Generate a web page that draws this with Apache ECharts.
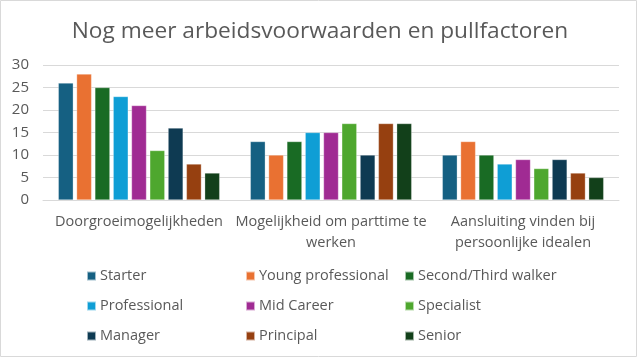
<!DOCTYPE html>
<html><head><meta charset="utf-8">
<script src="https://cdn.jsdelivr.net/npm/echarts@6/dist/echarts.min.js"></script>
<style>html,body{margin:0;padding:0;background:#fff}#c{width:640px;height:359px}</style>
</head><body><div id="c"></div>
<script>
const title = 'Nog meer arbeidsvoorwaarden en pullfactoren';
const categories = ['Doorgroeimogelijkheden', 'Mogelijkheid om parttime te\nwerken', 'Aansluiting vinden bij\npersoonlijke idealen'];
const seriesNames = ['Starter', 'Young professional', 'Second/Third walker', 'Professional', 'Mid Career', 'Specialist', 'Manager', 'Principal', 'Senior'];
const colors = ['#156082', '#E97132', '#196B24', '#0F9ED5', '#A02B93', '#4EA72E', '#0E3A52', '#964010', '#12401A'];
const starter = [26, 13, 10];
const youngProfessional = [28, 10, 13];
const secondThirdWalker = [25, 13, 10];
const professional = [23, 15, 8];
const midCareer = [21, 15, 9];
const specialist = [11, 17, 7];
const manager = [16, 10, 9];
const principal = [8, 17, 6];
const senior = [6, 17, 5];
const values = [starter, youngProfessional, secondThirdWalker, professional, midCareer, specialist, manager, principal, senior];
const yTicks = {min: 0, max: 30, interval: 5};

const FONT = 'Open Sans';
const chart = echarts.init(document.getElementById('c'), null, {renderer: 'canvas'});
const legendText = {color: '#595959', fontSize: 14.5, fontFamily: FONT, lineHeight: 16, padding: [0, 0, 0, -1]};
function legendCol(names, left) {
  return {
    orient: 'vertical', left: left, top: 268, itemWidth: 9, itemHeight: 9, itemGap: 14, padding: 0,
    icon: 'rect', textStyle: legendText, data: names, selectedMode: false
  };
}
chart.setOption({
  animation: false,
  color: colors,
  title: {text: title, left: 'center', top: 15, textStyle: {color: '#595959', fontSize: 22.7, fontWeight: 'normal', fontFamily: FONT}},
  grid: {left: 43, right: 21, top: 65, bottom: 159, containLabel: false},
  legend: [
    legendCol([seriesNames[0], seriesNames[3], seriesNames[6]], 86),
    legendCol([seriesNames[1], seriesNames[4], seriesNames[7]], 245),
    legendCol([seriesNames[2], seriesNames[5], seriesNames[8]], 404)
  ],
  xAxis: {
    type: 'category', data: categories,
    axisLine: {lineStyle: {color: '#d9d9d9'}}, axisTick: {show: false},
    axisLabel: {color: '#595959', fontSize: 14.5, fontFamily: FONT, margin: 11, lineHeight: 21, interval: 0}
  },
  yAxis: {
    type: 'value', min: yTicks.min, max: yTicks.max, interval: yTicks.interval,
    axisLine: {show: false}, axisTick: {show: false},
    splitLine: {lineStyle: {color: '#d9d9d9'}},
    axisLabel: {color: '#595959', fontSize: 15, fontFamily: FONT, margin: 14}
  },
  series: seriesNames.map((n, i) => ({
    name: n, type: 'bar', data: values[i], barWidth: 15, barGap: '22%',
    itemStyle: {borderColor: 'rgba(255,255,255,0.6)', borderWidth: 0.5}
  })),
  graphic: [{type: 'rect', shape: {x: 0.5, y: 0.5, width: 636, height: 356}, style: {fill: 'none', stroke: '#d9d9d9', lineWidth: 1}, silent: true}]
});
</script></body></html>
